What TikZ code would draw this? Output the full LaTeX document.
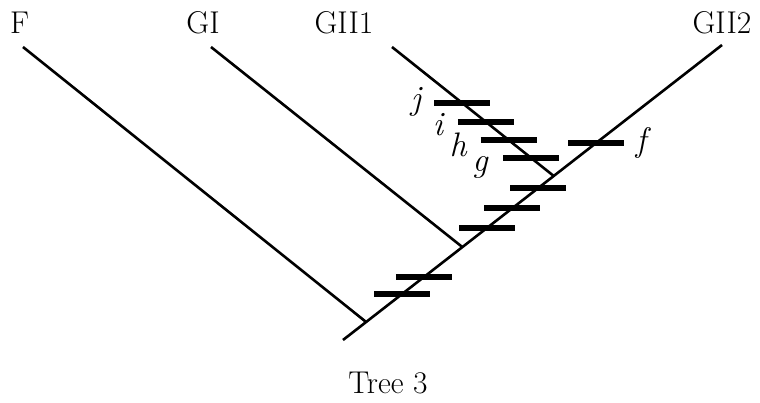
\documentclass[tikz,border=0pt]{standalone}
\usetikzlibrary{calc}
\begin{document}
\begin{tikzpicture}[x=1pt,y=-1pt,
  branch/.style={line width=2.6pt},
  tick/.style={line width=5.6pt},
  lbl/.style={font=\fontsize{31.5}{36}\selectfont, inner sep=0pt},
  ilbl/.style={font=\fontsize{34}{40}\selectfont\itshape, inner sep=0pt}]
\useasboundingbox (0,0) rectangle (760,403);
% leaf labels
\node[lbl] (F) at (19.5,23) {F};
\node[lbl] (GI) at (203,23) {GI};
\node[lbl] (GIIa) at (344,23) {GII1};
\node[lbl] (GIIb) at (722,23) {GII2};
\node[lbl] (cap) at (388,383) {Tree 3};
% line ends
\coordinate (root) at (343,340);
\coordinate (tF) at (23,47);
\coordinate (tGI) at (211,47);
\coordinate (tGIIa) at (392,47);
\coordinate (tGIIb) at (722,45);
% junctions on main line
\coordinate (jF) at ($(root)!0.061!(tGIIb)$);
\coordinate (jGI) at ($(root)!0.315!(tGIIb)$);
\coordinate (jGII) at ($(root)!0.556!(tGIIb)$);
% branches
\draw[branch] (root) -- (tGIIb);
\draw[branch] (jF) -- (tF);
\draw[branch] (jGI) -- (tGI);
\draw[branch] (jGII) -- (tGIIa);
% ticks on main line
\foreach \f/\n in {0.156/m1,0.2136/m2,0.380/m3,0.447/m4,0.515/m5,0.668/mf}{
  \coordinate (\n) at ($(root)!\f!(tGIIb)$);
  \draw[tick] ($(\n)+(-28,0)$) -- ($(\n)+(28,0)$);
}
% ticks on GII1 line
\foreach \f/\n in {0.434/cj,0.581/ci,0.721/ch,0.860/cg}{
  \coordinate (\n) at ($(tGIIa)!\f!(jGII)$);
  \draw[tick] ($(\n)+(-28,0)$) -- ($(\n)+(28,0)$);
}
% character labels
\node[ilbl] (lj) at (416,102) {j};
\node[ilbl] (li) at (438,125) {i};
\node[ilbl] (lh) at (458,145) {h};
\node[ilbl] (lg) at (480,167) {g};
\node[ilbl] (lf) at (641,143) {f};
\end{tikzpicture}
\end{document}
